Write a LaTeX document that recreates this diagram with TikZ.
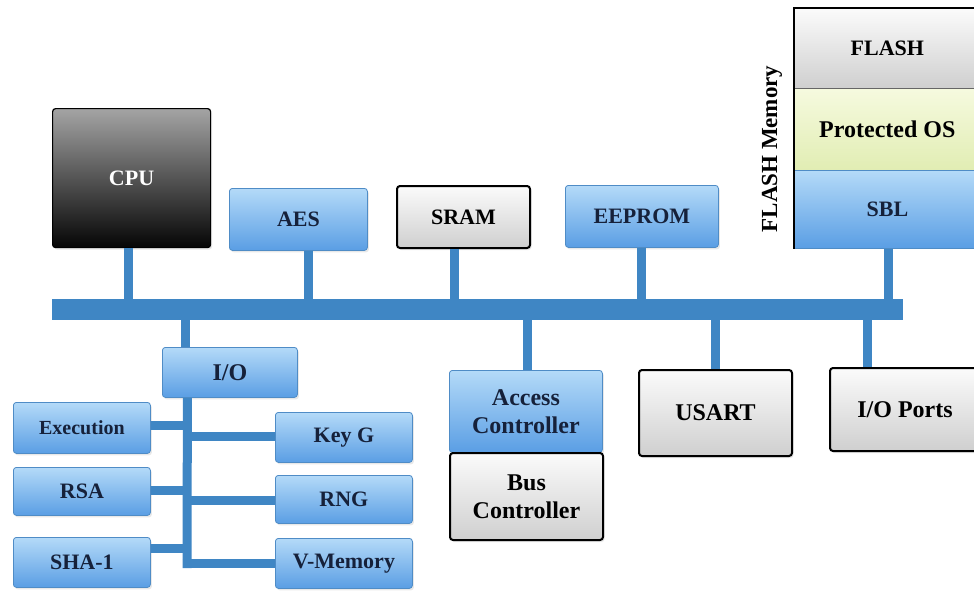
\documentclass[tikz,border=0pt]{standalone}
\usepackage{fontspec}
\setmainfont{Liberation Serif}
\usetikzlibrary{calc,shadows}

\definecolor{bluetop}{HTML}{B4DAF8}
\definecolor{bluebot}{HTML}{5A9EE4}
\definecolor{bluebd}{HTML}{4F8CC6}
\definecolor{navy}{HTML}{16213A}
\definecolor{graytop}{HTML}{FBFBFB}
\definecolor{graybot}{HTML}{CFCFCF}
\definecolor{cputop}{HTML}{A4A4A4}
\definecolor{cpubot}{HTML}{050505}
\definecolor{bus}{HTML}{3F86C4}
\definecolor{greentop}{HTML}{F6FADF}
\definecolor{greenbot}{HTML}{E1EDB3}

\tikzset{
  box/.style={anchor=north west, inner sep=0pt, align=center, font=\bfseries\fontsize{22}{28}\selectfont},
  softshadow/.style={drop shadow={opacity=0.18, shadow xshift=1.5pt, shadow yshift=-2pt}},
  bluebox/.style={box, rounded corners=3pt, draw=bluebd, line width=0.8pt,
    top color=bluetop, bottom color=bluebot, text=navy, softshadow},
  graybox/.style={box, rounded corners=3pt, draw=black, line width=2pt,
    top color=graytop, bottom color=graybot, text=black, softshadow},
  cpubox/.style={box, rounded corners=3pt, draw=black, line width=1.2pt,
    top color=cputop, bottom color=cpubot, text=white, softshadow},
  small/.style={font=\bfseries\fontsize{22}{26}\selectfont},
  wide/.style={font=\bfseries\fontsize{24}{28}\selectfont},
  stub/.style={draw=bus, line width=9pt},
  busbar/.style={fill=bus, draw=none, inner sep=0pt, anchor=north west}
}

\begin{document}
\begin{tikzpicture}[x=1pt, y=-1pt]
\useasboundingbox (0,0) rectangle (974,592);

% system bus
\node[busbar, minimum width=851pt, minimum height=21pt] (bus) at (52,299) {};

% upper row of blocks
\node[cpubox, minimum width=158pt, minimum height=139pt] (cpu) at (52,108) {CPU};
\node[bluebox, minimum width=138pt, minimum height=62pt] (aes) at (229,188) {AES};
\node[graybox, minimum width=133pt, minimum height=62pt] (sram) at (396,185) {SRAM};
\node[bluebox, minimum width=153pt, minimum height=62pt] (eeprom) at (565,185) {EEPROM};

% flash memory stack
\node[box, draw=black, line width=0.8pt, top color=graytop, bottom color=graybot,
  minimum width=186pt, minimum height=80pt] (flash) at (794,8) {FLASH};
\node[box, wide, draw=black!60, line width=0.6pt, top color=greentop, bottom color=greenbot,
  minimum width=186pt, minimum height=82pt] (prot) at (794,88) {Protected OS};
\node[box, draw=bluebd, line width=0.8pt, top color=bluetop, bottom color=bluebot, text=navy,
  minimum width=186pt, minimum height=78pt] (sbl) at (794,170) {SBL};
\draw[black, line width=1.4pt] (sbl.south west) -- (flash.north west) -- (flash.north east);
\node[font=\bfseries\fontsize{23}{26}\selectfont, rotate=90] (flashlbl) at (772,149) {FLASH Memory};

% lower row of blocks
\node[bluebox, wide, minimum width=153pt, minimum height=82pt] (acc) at (449,370) {Access\\Controller};
\node[graybox, wide, minimum width=153pt, minimum height=87pt] (busc) at (449,452) {Bus\\Controller};
\node[graybox, wide, minimum width=153pt, minimum height=86pt] (usart) at (638,369) {USART};
\node[graybox, wide, minimum width=150pt, minimum height=83pt] (ioports) at (829,367) {I/O Ports};

% I/O subsystem
\node[bluebox, font=\bfseries\fontsize{24}{28}\selectfont, minimum width=135pt, minimum height=50pt] (io) at (162,347) {I/O};
\node[bluebox, font=\bfseries\fontsize{20}{24}\selectfont, minimum width=137pt, minimum height=51pt] (exe) at (13,402) {Execution};
\node[bluebox, small, minimum width=137pt, minimum height=48pt] (rsa) at (13,467) {RSA};
\node[bluebox, small, minimum width=137pt, minimum height=50pt] (sha) at (13,537) {SHA-1};
\node[bluebox, small, minimum width=137pt, minimum height=50pt] (keyg) at (275,412) {Key G};
\node[bluebox, small, minimum width=137pt, minimum height=48pt] (rng) at (275,475) {RNG};
\node[bluebox, small, minimum width=137pt, minimum height=50pt] (vmem) at (275,538) {V-Memory};

% stubs joining the blocks to the bus
\coordinate (c1) at ($(cpu.south)+(-3,0)$);
\coordinate (c2) at ($(aes.south)+(10,0)$);
\coordinate (c3) at ($(sram.south)+(-9.5,0)$);
\coordinate (c4) at (eeprom.south);
\coordinate (c5) at ($(sbl.south)+(1,0)$);
\coordinate (c6) at ($(io.north)+(-44.5,0)$);
\coordinate (c7) at ($(acc.north)+(1.5,0)$);
\coordinate (c8) at (usart.north);
\coordinate (c9) at ($(ioports.north)+(-38,0)$);
\foreach \c in {c1,c2,c3,c4,c5} \draw[stub] (\c) -- (\c |- bus.center);
\foreach \c in {c6,c7,c8,c9} \draw[stub] (bus.center -| \c) -- (\c);

% I/O trunk and its branches
\coordinate (ttop) at ($(io.south)+(-42.5,0)$);
\coordinate (tend) at (187,568);
\draw[stub] (ttop) -- (tend);
\draw[stub] (exe.east |- 0,425) -- (ttop |- 0,425);
\draw[stub] (rsa.east |- 0,490) -- (ttop |- 0,490);
\draw[stub] (sha.east |- 0,548) -- (ttop |- 0,548);
\draw[stub] (ttop |- 0,436) -- (keyg.west |- 0,436);
\draw[stub] (ttop |- 0,500) -- (rng.west |- 0,500);
\draw[stub] ([xshift=-4.5pt]tend |- 0,563) -- (vmem.west |- 0,563);
\end{tikzpicture}
\end{document}
